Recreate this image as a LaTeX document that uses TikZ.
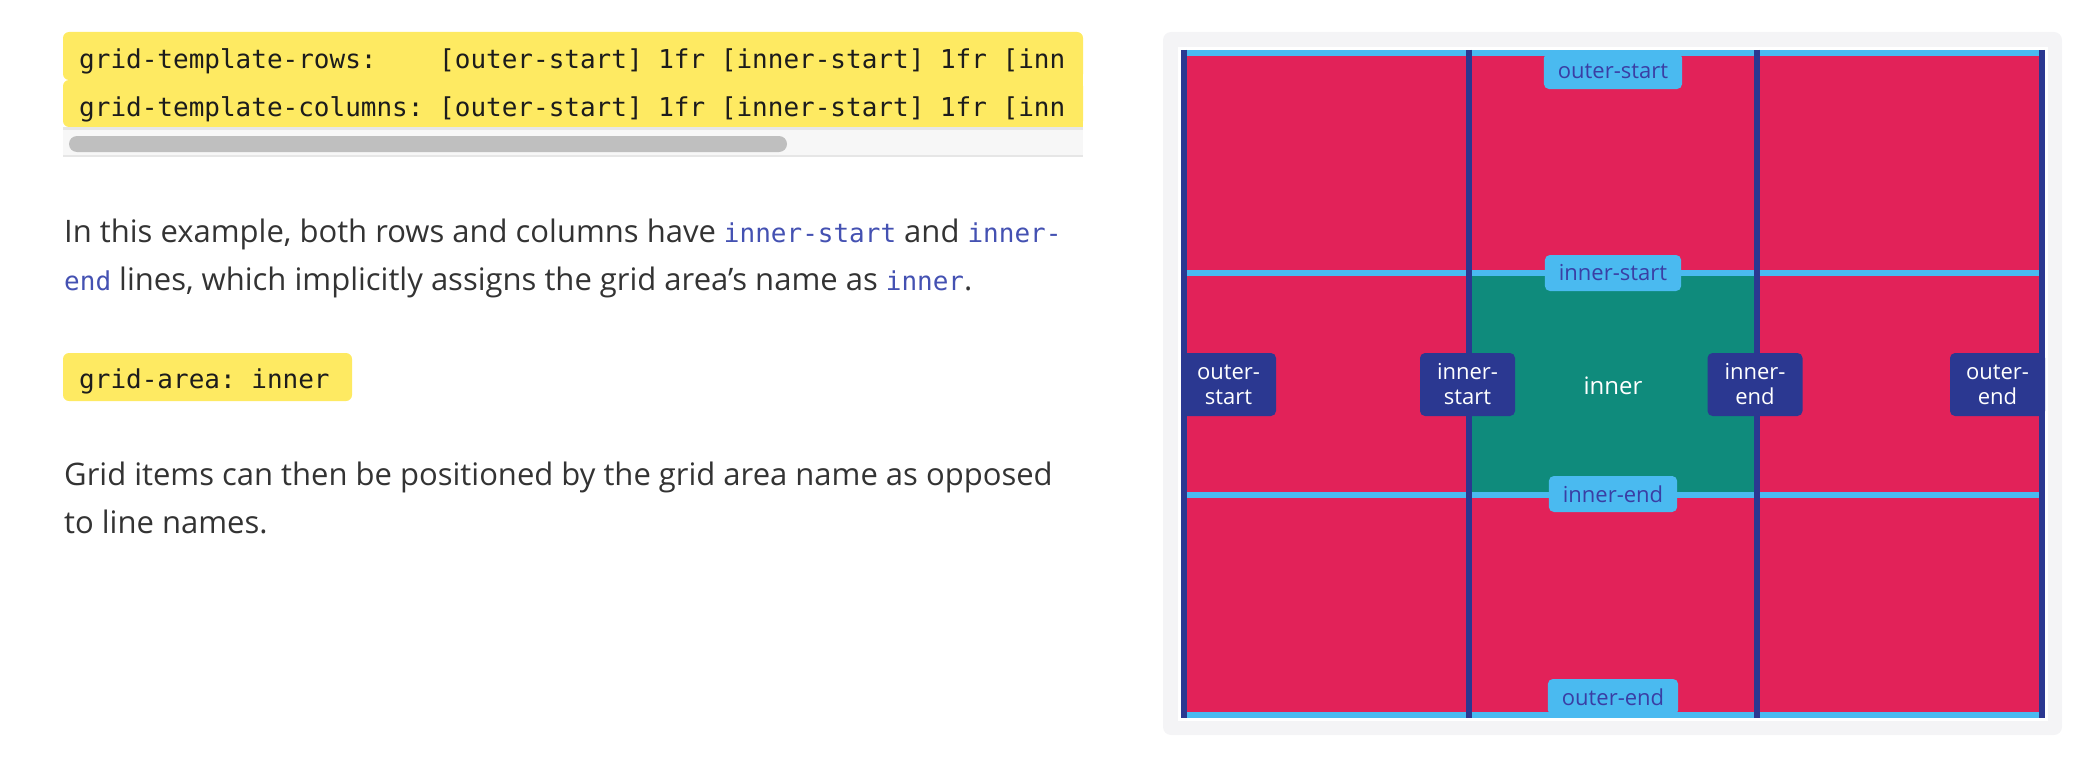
\documentclass[tikz,border=0pt]{standalone}
\usepackage{fontspec}
\setmainfont{Open Sans}
\setmonofont{DejaVu Sans Mono}

\definecolor{codeYellow}{HTML}{FEEA62}
\definecolor{codeInk}{HTML}{1C1C1C}
\definecolor{bodyGray}{HTML}{333333}
\definecolor{codeBlue}{HTML}{4451B2}
\definecolor{barGray}{HTML}{F7F7F7}
\definecolor{barRule}{HTML}{E6E6E6}
\definecolor{thumbGray}{HTML}{BFBFBF}
\definecolor{panelGray}{HTML}{F4F4F6}
\definecolor{cellRed}{HTML}{E22259}
\definecolor{cellTeal}{HTML}{0F8B7C}
\definecolor{rowCyan}{HTML}{4ABAF0}
\definecolor{colNavy}{HTML}{2B3891}
\definecolor{labelInk}{HTML}{3A3EA4}

\newcommand\bodyFont{\fontsize{31}{37}\selectfont}
\newcommand\codeFont{\fontsize{26}{30}\selectfont\ttfamily}
\newcommand\labelFont{\fontsize{22}{25}\selectfont}
\newcommand\inlineCode[1]{{\codeFont\color{codeBlue}#1}}

\def \lineWidth {6pt}

\tikzset{
  bodytext/.style={anchor=base west, inner sep=0pt, text=bodyGray, font=\bodyFont},
  codetext/.style={anchor=base west, inner sep=0pt, text=codeInk, font=\codeFont},
  rowname/.style={fill=rowCyan, text=labelInk, rounded corners=5pt, inner xsep=14pt, inner ysep=0pt, minimum height=36pt, font=\labelFont},
  colname/.style={fill=colNavy, text=white, rounded corners=5pt, inner sep=0pt, minimum width=95pt, minimum height=63pt, align=center, font=\labelFont},
}

\begin{document}
\begin{tikzpicture}[x=1pt, y=-1pt]
   \useasboundingbox (0,0) rectangle (2094,768);

      \begin{scope}
         \fill[codeYellow, rounded corners=6pt] (63,32) rectangle (1083,80);
         \fill[codeYellow] (1070,60) rectangle (1083,80);
         \fill[codeYellow, rounded corners=6pt] (63,80) rectangle (1083,127);
         \fill[codeYellow] (1070,80) rectangle (1083,127);
         \fill[barRule] (63,127) rectangle (1083,130);
         \fill[barGray] (63,130) rectangle (1083,155);
         \fill[barRule] (63,155) rectangle (1083,157);
         \fill[thumbGray, rounded corners=8pt] (69,136) rectangle (787,152);
      \end{scope}

      \begin{scope}
         \clip (63,32) rectangle (1083,127);
         \node[codetext] (rowsRule) at (79,69) {grid-template-rows:\ \ \ \ [outer-start] 1fr [inner-start] 1fr [inn};
         \node[codetext] (colsRule) at (79,117) {grid-template-columns: [outer-start] 1fr [inner-start] 1fr [inn};
      \end{scope}

      \node[bodytext] (lineA) at (64,242) {In this example, both rows and columns have \inlineCode{inner-start} and \inlineCode{inner-}};
      \node[bodytext] (lineB) at (64,290) {\inlineCode{end} lines, which implicitly assigns the grid area’s name as \inlineCode{inner}.};

      \fill[codeYellow, rounded corners=6pt] (63,353) rectangle (352,401);
      \node[codetext] (areaRule) at (79,388) {grid-area: inner};

      \node[bodytext] (lineC) at (64,485) {Grid items can then be positioned by the grid area name as opposed};
      \node[bodytext] (lineD) at (64,533) {to line names.};

      \begin{scope}
         \fill[panelGray, rounded corners=8pt] (1163,32) rectangle (2062,735);
         \fill[white] (1178,47) rectangle (2048,721);
         \fill[cellRed] (1181,50) rectangle (2045,718);
         \fill[cellTeal] (1469,273) rectangle (1757,495);
         \foreach \y in {53,273,495,715}
            \draw[rowCyan, line width=\lineWidth] (1181,\y) -- (2045,\y);
         \foreach \x in {1184,1469,1757,2042}
            \draw[colNavy, line width=\lineWidth] (\x,50) -- (\x,718);

         \node[rowname] (outerStartRow) at (1613,71) {outer-start};
         \node[rowname] (innerStartRow) at (1613,273) {inner-start};
         \node[rowname] (innerEndRow) at (1613,494) {inner-end};
         \node[rowname] (outerEndRow) at (1613,697) {outer-end};

         \node[colname] (outerStartCol) at (1228.5,384.5) {outer-\\start};
         \node[colname] (innerStartCol) at (1467.5,384.5) {inner-\\start};
         \node[colname] (innerEndCol) at (1755,384.5) {inner-\\end};
         \node[colname] (outerEndCol) at (1997.5,384.5) {outer-\\end};

         \node[text=white, font=\fontsize{24}{28}\selectfont] (innerArea) at (1613,386) {inner};
      \end{scope}

   \end{tikzpicture}
\end{document}
